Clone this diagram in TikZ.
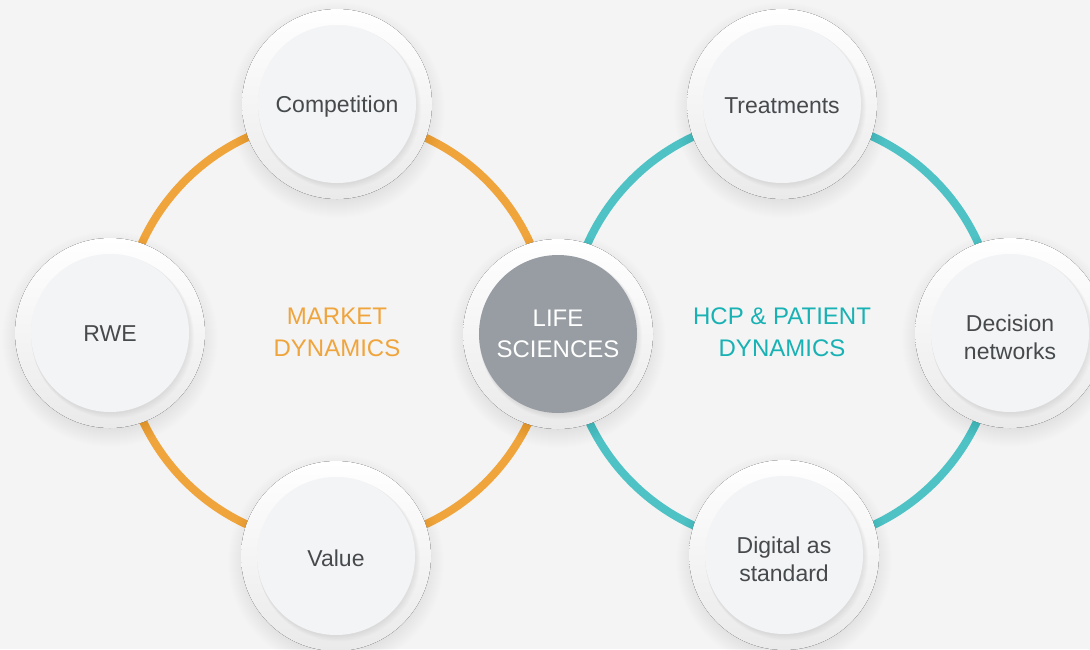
\documentclass[tikz,border=0pt]{standalone}
\usepackage{fontspec}
\setmainfont{Liberation Sans}
\definecolor{bg}{HTML}{F4F4F4}
\definecolor{haloB}{HTML}{EAEAEA}
\definecolor{inner}{HTML}{F3F4F6}
\definecolor{lifeC}{HTML}{979DA3}
\definecolor{txt}{HTML}{474A4D}
\definecolor{orangeC}{HTML}{F0A43C}
\definecolor{tealC}{HTML}{4EC2C4}
\definecolor{tealT}{HTML}{18B1B4}
\tikzset{
  ring/.style={line width=8pt},
  halo/.style={top color=white, bottom color=haloB},
  bubble/.style={circle, minimum size=158pt, inner sep=0pt, fill=inner},
  lifebubble/.style={bubble, fill=lifeC},
  btext/.style={text=txt, align=center, font=\fontsize{23}{28}\selectfont},
  lifetext/.style={text=white, align=center, font=\fontsize{24}{31}\selectfont},
  dyn/.style={align=center, font=\fontsize{24}{32}\selectfont},
}
\begin{document}
\begin{tikzpicture}[x=1pt,y=-1pt]
\fill[bg] (0,0) rectangle (1090,649);
\useasboundingbox (0,0) rectangle (1090,649);
% rings
\draw[ring, orangeC] (336,331) circle (213);
\draw[ring, tealC] (783,331) circle (214);
% bubbles
\foreach \n/\x/\y/\t/\s/\ts/\d in {comp/337/104/Competition/bubble/btext/3, rwe/110/333/RWE/bubble/btext/1, val/336/556/Value/bubble/btext/2, treat/782/104/Treatments/bubble/btext/2, dec/1010/333/{Decision\\networks}/bubble/btext/4, dig/784/555/{Digital as\\standard}/bubble/btext/4, life/558/334/{LIFE\\SCIENCES}/lifebubble/lifetext/0} {
  \foreach \k in {1,...,24} \fill[black,opacity=0.0045] (\x,\y+6) circle ({84+\k});
  \fill[halo] (\x,\y) circle (95);
  \foreach \k in {1,...,6} \fill[black,opacity=0.01] (\x+0.5*\k,\y+0.7*\k) circle ({79.5+0.3*\k});
  \node[\s] (\n) at (\x,\y) {};
  \node[\ts] (\n-t) at (\x,\y+\d) {\t};
}
% labels
\node[dyn, text=orangeC] (market) at (337,332) {MARKET\\DYNAMICS};
\node[dyn, text=tealT] (hcp) at (782,332) {HCP \& PATIENT\\DYNAMICS};
\end{tikzpicture}
\end{document}
